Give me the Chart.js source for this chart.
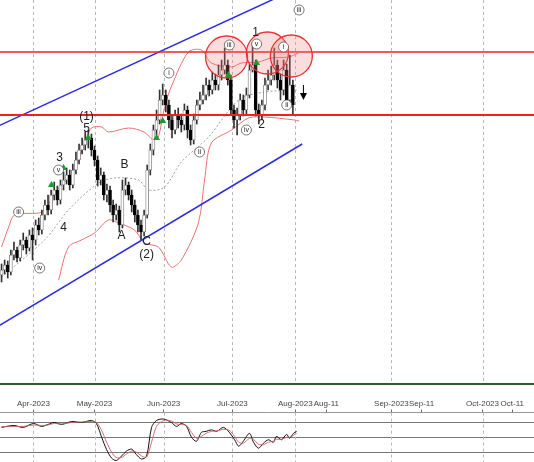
<!DOCTYPE html>
<html>
<head>
<meta charset="utf-8">
<script src="https://cdn.jsdelivr.net/npm/chart.js@4.4.0/dist/chart.umd.min.js"></script>
<style>
  body { margin: 0; background: #fff; width: 534px; height: 462px; overflow: hidden; position: relative; font-family: "Liberation Sans", Arial, sans-serif; }
  #mainWrap { position: absolute; left: 0; top: 0; width: 534px; height: 384px; }
  #greenLine { position: absolute; left: 0; top: 383px; width: 534px; height: 2px; background: #2e5e2e; }
  #oscWrap { position: absolute; left: 0; top: 398px; width: 534px; height: 64px; }
</style>
</head>
<body>
<div id="mainWrap"><canvas id="mainChart"></canvas></div>
<div id="greenLine"></div>
<div id="oscWrap"><canvas id="oscChart"></canvas></div>
<script>
// candles, one per trading bar (x = bar index)
const opens  = [125,130,135,128,145,150,142,155,160,152, 165,160,175,170,185,195,190,205,210,200, 215,220,225,215,230,240,250,255,260,262, 250,240,220,225,205,210,195,185,190,175, 210,215,205,195,185,175,168,185,230,250, 270,280,300,305,295,280,270,285,280,275, 290,270,260,280,295,300,305,315,310,320, 315,325,330,335,320,290,280,285,300,290, 305,330,335,290,285,295,315,320,325,335, 320,310,330,300,315];
const closes = [130,135,128,145,150,142,155,160,152,165, 160,175,170,185,195,190,205,210,200,215, 220,225,215,230,240,250,255,260,262,250, 240,220,225,205,210,195,185,190,175,210, 215,205,195,185,175,168,185,230,250,270, 280,300,305,295,280,270,285,280,275,290, 270,260,280,295,300,305,315,310,320,315, 325,330,335,320,290,280,285,300,290,305, 330,335,290,285,295,315,320,325,335,320, 310,330,300,315,295];
const highs  = [136,140,139,150,158,153,160,167,163,170, 172,180,182,190,200,205,210,218,214,220, 228,232,230,236,248,256,262,268,270,266, 254,244,232,228,216,214,200,196,194,220, 222,218,210,200,190,180,190,235,256,275, 290,310,316,310,300,285,290,292,286,296, 294,275,286,300,308,315,322,320,328,326, 335,340,352,340,325,295,292,306,305,312, 336,355,340,296,300,322,330,334,352,340, 326,340,336,345,320];
const lows   = [118,126,122,125,140,138,139,150,146,149, 140,155,165,166,180,185,186,200,195,196, 210,216,210,212,226,236,246,250,252,244, 234,214,215,200,198,188,178,180,168,172, 205,200,188,178,168,160,164,182,225,245, 265,276,295,288,272,262,266,272,268,270, 262,255,256,276,290,296,300,304,306,310, 310,320,326,315,285,272,265,280,284,286, 302,328,284,276,280,290,310,315,320,312, 300,305,295,296,285];

// Bollinger bands [bar, price]
const bandUpper = [[0,153],[2.3,173],[4.2,185],[12,187],[13.9,190],[18.4,212],[22.6,225],[26.8,257],[29,272],[32.3,273],[34.5,268],[41,272],[46,268],[49,260],[50.6,263],[52.6,293],[55,315],[60.3,348],[64.5,350],[67.7,337],[74.2,333],[77.4,337],[82.9,338],[87,342],[92.6,343],[95.8,347]];
const bandLower = [[18.4,120],[21.6,153],[25.8,160],[30,167],[34.5,180],[37.7,177],[42.9,170],[46.1,157],[50.6,153],[54.8,133],[58,140],[63.5,177],[65.5,220],[67.7,257],[74.2,270],[79.7,282],[84.8,283],[94.5,280],[96,279]];
const bandMid   = [[0,123],[13.9,160],[21.6,190],[31.3,217],[36.5,222],[44.2,220],[47.4,210],[52.6,213],[58,238],[66.8,263],[76.5,300],[84.8,308],[95.8,310]];

// channel and levels
const channelUpper = [[-1,274],[90,404]];
const channelLower = [[-1,74],[97,256]];
const levelResist = 348;
const levelSupport = 285;

// stochastic
const stochMain = [[0,70],[4,74],[7,70],[10.3,78],[12.9,72],[15,76],[17,80],[19.4,76],[22.6,82],[25.8,80],[29,84],[30.6,78],[32.3,50],[33.9,25],[35.5,8],[37,3],[38.7,12],[40.3,22],[42,26],[43.5,15],[45.2,6],[46.8,12],[48.4,70],[50,84],[52.3,87],[54.8,80],[56.5,72],[58,78],[59.7,72],[61.3,50],[62.9,42],[64.5,60],[66,62],[67.7,65],[69.4,62],[71.6,70],[73.5,60],[75.2,45],[76.5,32],[78,42],[80,58],[81.3,40],[82.9,28],[84.5,38],[86.1,45],[87.7,40],[88.7,52],[90.3,45],[92,56],[92.9,48],[94.2,58],[95.2,62]];
const stochSignal = [[0,72],[4,72],[7,72],[10.3,75],[12.9,74],[15,75],[17,78],[19.4,77],[22.6,80],[25.8,81],[29,82],[30.6,80],[32.3,64],[33.9,40],[35.5,20],[37,9],[38.7,9],[40.3,16],[42,22],[43.5,20],[45.2,12],[46.8,10],[48.4,40],[50,72],[52.3,84],[54.8,83],[56.5,77],[58,76],[59.7,74],[61.3,60],[62.9,48],[64.5,52],[66,58],[67.7,62],[69.4,63],[71.6,66],[73.5,64],[75.2,52],[76.5,40],[78,38],[80,48],[81.3,46],[82.9,36],[84.5,35],[86.1,40],[87.7,42],[88.7,46],[90.3,46],[92,50],[92.9,50],[94.2,54],[95.2,58]];

// time axis
const tickLabels = ['Apr-2023','May-2023','Jun-2023','Jul-2023','Aug-2023','Aug-11','Sep-2023','Sep-11','Oct-2023','Oct-11'];
const tickBars   = [10.3, 30, 52.3, 74.5, 94.8, 104.8, 125.8, 135.5, 155.2, 164.8];
const monthStart = [true, true, true, true, true, false, true, false, true, false];

// wave labels [bar, price, text]
const waveLabels = [[27.4,283,'(1)'],[27.4,271,'5'],[18.7,242,'3'],[20,172,'4'],[39.7,235,'B'],[38.7,164,'A'],[46.8,158,'C'],[46.8,145,'(2)'],[82,367,'1'],[83.9,275,'2']];
const circledLabels = [[5.5,188,'iii'],[12.3,132,'iv'],[18.4,230,'v'],[54,327,'i'],[63.9,248,'ii'],[73.5,355,'iii'],[79,270,'iv'],[82.3,356,'v'],[91,353,'i'],[92,295,'ii'],[96,390,'iii']];
const targetCircles = [[72.6,343],[85.8,347],[93.5,344]];
const greenArrows = [[16.1,215],[20,232],[28,262],[50,262],[52,279],[73.2,325],[82.3,337]];

const X_MIN = -0.5, X_MAX = 171.8;
const barPos = opens.map((o, i) => i);
const pts = arr => arr.map(p => ({ x: p[0], y: p[1] }));

// dashed vertical lines at month starts
const monthGrid = {
  id: 'monthGrid',
  beforeDatasetsDraw(chart) {
    const { ctx, chartArea, scales: { x } } = chart;
    ctx.save();
    ctx.strokeStyle = '#b8b8b8';
    ctx.lineWidth = 1;
    ctx.setLineDash([3, 3]);
    tickBars.forEach((v, i) => {
      if (!monthStart[i]) return;
      const px = Math.round(x.getPixelForValue(v)) + 0.5;
      ctx.beginPath(); ctx.moveTo(px, chartArea.top); ctx.lineTo(px, chartArea.bottom); ctx.stroke();
    });
    ctx.restore();
  }
};

const annotations = {
  id: 'annotations',
  afterDatasetsDraw(chart) {
    const { ctx, scales: { x, y } } = chart;
    ctx.save();
    targetCircles.forEach(c => {
      ctx.beginPath();
      ctx.arc(x.getPixelForValue(c[0]), y.getPixelForValue(c[1]), 21, 0, Math.PI * 2);
      ctx.fillStyle = 'rgba(240,120,120,0.25)';
      ctx.fill();
      ctx.strokeStyle = '#e83030';
      ctx.lineWidth = 1.3;
      ctx.stroke();
    });
    greenArrows.forEach(a => {
      const px = x.getPixelForValue(a[0]), py = y.getPixelForValue(a[1]);
      ctx.fillStyle = '#1f9a2a';
      ctx.beginPath();
      ctx.moveTo(px, py - 4); ctx.lineTo(px + 3.5, py + 2); ctx.lineTo(px - 3.5, py + 2);
      ctx.closePath(); ctx.fill();
    });
    // down arrow at last bar
    const ax = x.getPixelForValue(97.4), ay = y.getPixelForValue(303);
    ctx.fillStyle = '#000';
    ctx.beginPath();
    ctx.moveTo(ax - 3.5, ay - 4); ctx.lineTo(ax + 3.5, ay - 4); ctx.lineTo(ax, ay + 3);
    ctx.closePath(); ctx.fill();
    ctx.strokeStyle = '#000'; ctx.lineWidth = 1;
    ctx.beginPath(); ctx.moveTo(ax, ay - 12); ctx.lineTo(ax, ay - 4); ctx.stroke();

    ctx.textAlign = 'center';
    ctx.textBaseline = 'middle';
    ctx.font = '12px "Liberation Sans", Arial, sans-serif';
    ctx.fillStyle = '#222';
    waveLabels.forEach(l => ctx.fillText(l[2], x.getPixelForValue(l[0]), y.getPixelForValue(l[1])));
    ctx.font = '7px "Liberation Sans", Arial, sans-serif';
    circledLabels.forEach(l => {
      const px = x.getPixelForValue(l[0]), py = y.getPixelForValue(l[1]);
      ctx.beginPath();
      ctx.arc(px, py, 5, 0, Math.PI * 2);
      ctx.fillStyle = '#fff'; ctx.fill();
      ctx.strokeStyle = '#555'; ctx.lineWidth = 0.8; ctx.stroke();
      ctx.fillStyle = '#222';
      ctx.fillText(l[2], px, py + 0.5);
    });
    ctx.restore();
  }
};

new Chart(document.getElementById('mainChart'), {
  data: {
    datasets: [
      { type: 'line', data: pts(bandMid), borderColor: '#888', borderWidth: 0.8, borderDash: [2, 2], pointRadius: 0, tension: 0.3, order: 5 },
      { type: 'line', data: pts(bandUpper), borderColor: '#f07070', borderWidth: 1, pointRadius: 0, tension: 0.3, order: 5 },
      { type: 'line', data: pts(bandLower), borderColor: '#f07070', borderWidth: 1, pointRadius: 0, tension: 0.3, order: 5 },
      { type: 'bar', data: barPos.map(i => ({ x: i, y: [lows[i], highs[i]] })), backgroundColor: '#333', barThickness: 1, grouped: false, order: 4 },
      { type: 'bar', data: barPos.map(i => ({ x: i, y: [opens[i], closes[i]] })),
        backgroundColor: barPos.map(i => closes[i] >= opens[i] ? '#ffffff' : '#000000'),
        borderColor: barPos.map(i => closes[i] >= opens[i] ? '#777' : '#000'),
        borderWidth: 0.8, borderSkipped: false, barThickness: 3, grouped: false, order: 3 },
      { type: 'line', data: pts(channelUpper), borderColor: '#2a2ae8', borderWidth: 1.5, pointRadius: 0, order: 2 },
      { type: 'line', data: pts(channelLower), borderColor: '#2a2ae8', borderWidth: 1.5, pointRadius: 0, order: 2 },
      { type: 'line', data: [{ x: X_MIN, y: levelResist }, { x: X_MAX, y: levelResist }], borderColor: '#ee2222', borderWidth: 1.5, pointRadius: 0, order: 1 },
      { type: 'line', data: [{ x: X_MIN, y: levelSupport }, { x: X_MAX, y: levelSupport }], borderColor: '#ee2222', borderWidth: 2, pointRadius: 0, order: 1 }
    ]
  },
  options: {
    responsive: true, maintainAspectRatio: false, animation: false,
    layout: { padding: 0 },
    plugins: { legend: { display: false }, tooltip: { enabled: false } },
    scales: {
      x: { type: 'linear', min: X_MIN, max: X_MAX, offset: false, display: false },
      y: { display: false, min: 16, max: 400 }
    }
  },
  plugins: [monthGrid, annotations]
});

new Chart(document.getElementById('oscChart'), {
  type: 'line',
  data: {
    datasets: [
      { data: pts(stochSignal), borderColor: '#d06060', borderWidth: 0.9, pointRadius: 0, tension: 0.3 },
      { data: pts(stochMain), borderColor: '#111', borderWidth: 1, pointRadius: 0, tension: 0.3 }
    ]
  },
  options: {
    responsive: true, maintainAspectRatio: false, animation: false,
    layout: { padding: 0 },
    plugins: { legend: { display: false }, tooltip: { enabled: false } },
    scales: {
      x: { type: 'linear', position: 'top', min: X_MIN, max: X_MAX,
        afterBuildTicks: axis => { axis.ticks = tickBars.map(v => ({ value: v })); },
        ticks: { callback: (v, i) => tickLabels[i], maxRotation: 0, autoSkip: false, padding: 1, color: '#444', font: { size: 8, family: '"Liberation Sans", Arial, sans-serif' } },
        border: { display: true, color: '#999' },
        grid: { display: true, drawOnChartArea: false, drawTicks: true, tickLength: 3, color: '#666' } },
      y: { display: true, min: 0, max: 100,
        afterBuildTicks: axis => { axis.ticks = [20, 50, 80].map(v => ({ value: v })); },
        ticks: { display: false },
        border: { display: false },
        grid: { color: '#777', drawTicks: false, lineWidth: 1 } }
    }
  },
  plugins: [monthGrid]
});
</script>
</body>
</html>
